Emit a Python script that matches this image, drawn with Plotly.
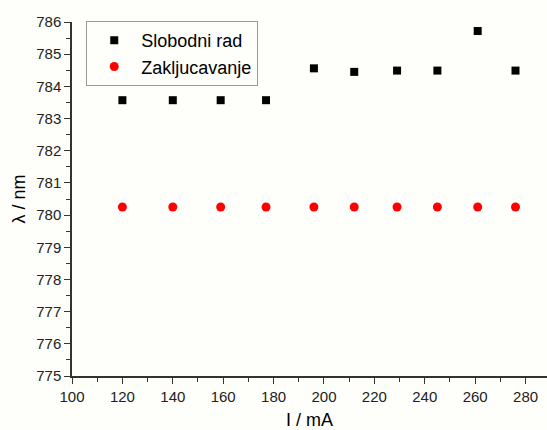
import plotly.graph_objects as go

current = [120, 140, 159, 177, 196, 212, 229, 245, 261, 276]
slobodni = [783.57, 783.57, 783.57, 783.57, 784.56, 784.45, 784.49, 784.49, 785.72, 784.49]
zakljucavanje = [780.25] * 10

bg = "#fefefb"
fig = go.Figure()
fig.add_trace(go.Scatter(x=current, y=slobodni, mode="markers", name="Slobodni rad",
                         marker=dict(symbol="square", size=8, color="black")))
fig.add_trace(go.Scatter(x=current, y=zakljucavanje, mode="markers", name="Zakljucavanje",
                         marker=dict(symbol="circle", size=9, color="#ff0000")))

axfont = dict(family="Liberation Sans, Arial", size=15, color="#222")
fig.update_layout(
    width=547, height=430,
    margin=dict(l=72, r=0, t=22, b=54),
    paper_bgcolor=bg, plot_bgcolor=bg,
    font=dict(family="Liberation Sans, Arial", color="black"),
    showlegend=True,
    legend=dict(x=0.03, y=1.003, xanchor="left", yanchor="top",
                bgcolor=bg, bordercolor="#999", borderwidth=1,
                font=dict(size=18), itemwidth=44, tracegroupgap=0),
    xaxis=dict(range=[100, 288.5], tick0=100, dtick=20, showgrid=False, zeroline=False,
               showline=True, linecolor="#333", linewidth=1.5, ticks="outside", ticklen=6,
               tickcolor="#333", tickfont=axfont, automargin=False,
               minor=dict(dtick=10, ticks="outside", ticklen=4, tickcolor="#333"),
               title=dict(text="I / mA", font=dict(size=18), standoff=17)),
    yaxis=dict(range=[775, 786], tick0=775, dtick=1, showgrid=False, zeroline=False,
               showline=True, linecolor="#333", linewidth=1.5, ticks="outside", ticklen=6,
               tickcolor="#333", tickfont=axfont,
               minor=dict(dtick=0.5, ticks="outside", ticklen=4, tickcolor="#333"),
               title=dict(text="λ / nm", font=dict(size=18), standoff=6)),
)
fig.write_html("out.html")
